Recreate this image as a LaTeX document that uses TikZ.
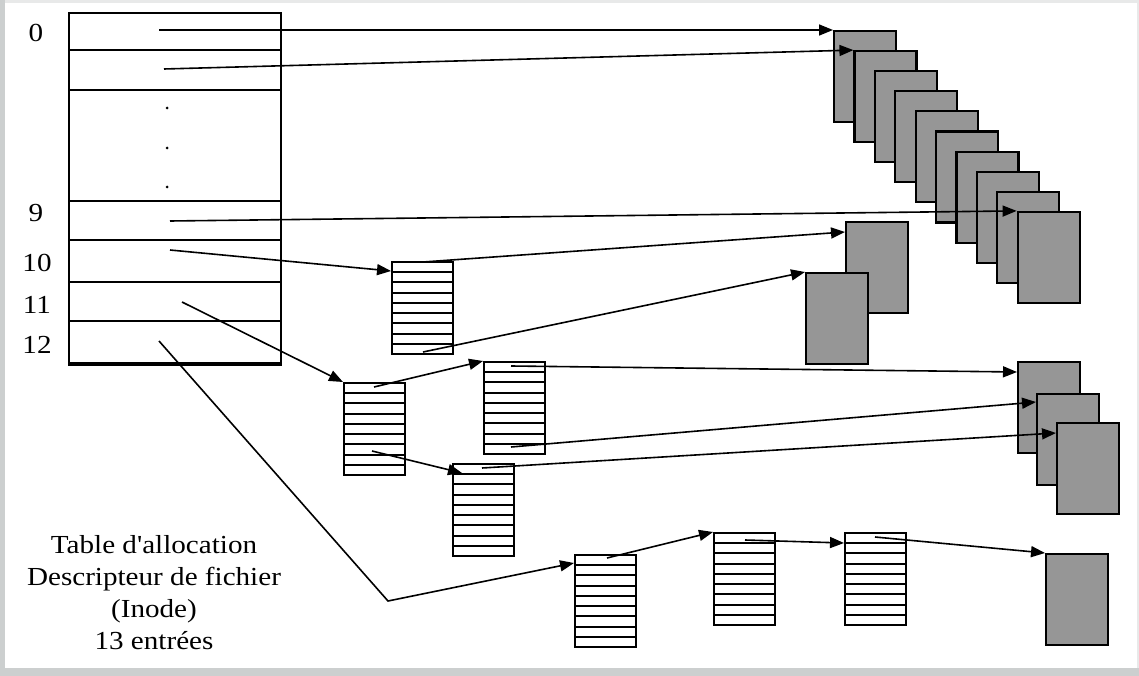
\documentclass[tikz,border=0pt]{standalone}
\usepackage{fontspec}
\setmainfont{Liberation Serif}
% plain family (no TeX ligature mapping, so the apostrophe stays straight)
\newfontfamily\capfont{Liberation Serif}[FakeStretch=1.12]
\usetikzlibrary{arrows.meta,calc}

\definecolor{blockgray}{RGB}{150,150,150}
\definecolor{framegray}{RGB}{204,207,207}
\definecolor{framelight}{RGB}{232,233,233}

\tikzset{
  cell/.style={draw, line width=2.2pt, minimum width=212pt, inner sep=0pt, anchor=north west},
  datablk/.style={draw, line width=2.1pt, fill=blockgray, minimum width=62pt,
    minimum height=91pt, inner sep=0pt, anchor=north west},
  idxblk/.style={draw, line width=2pt, fill=white, minimum width=61pt,
    minimum height=92pt, inner sep=0pt, anchor=north west,
    path picture={
      \foreach \k in {1,...,8}{
        \draw[line width=1.9pt]
          ($(path picture bounding box.north west)!\k/9!(path picture bounding box.south west)$) --
          ($(path picture bounding box.north east)!\k/9!(path picture bounding box.south east)$);
      }}},
  ptr/.style={line width=1.6pt, -{Triangle[length=14pt,width=11pt]}},
  lbl/.style={font=\capfont\fontsize{26}{32}\selectfont, inner sep=0pt},
  dotmark/.style={circle, fill, inner sep=0pt, minimum size=3pt},
}

\begin{document}
\begin{tikzpicture}[x=1pt, y=-1pt]
  \useasboundingbox (0,0) rectangle (1139,676);
  % frame
  \fill[framelight] (0,0) rectangle (1139,676);
  \fill[framegray] (0,0) rectangle (5,676);
  \fill[framegray] (0,668) rectangle (1139,676);
  \fill[white] (5,3) rectangle (1137,668);

  % inode table
  \node[cell, minimum height=37pt]  (row0)  at (68,12)  {};
  \node[cell, minimum height=40pt]  (row1)  at (68,49)  {};
  \node[cell, minimum height=111pt] (rowd)  at (68,89)  {};
  \node[cell, minimum height=39pt]  (row9)  at (68,200) {};
  \node[cell, minimum height=42pt]  (row10) at (68,239) {};
  \node[cell, minimum height=39pt]  (row11) at (68,281) {};
  \node[cell, minimum height=42pt]  (row12) at (68,320) {};
  \draw[line width=4pt] (row12.south west) -- (row12.south east);
  \node[dotmark] (dt1) at (167,108) {};
  \node[dotmark] (dt2) at (167,148) {};
  \node[dotmark] (dt3) at (167,187) {};

  \node[lbl] (l0)  at (36,33)  {0};
  \node[lbl] (l9)  at (36,213) {9};
  \node[lbl] (l10) at (37,263) {10};
  \node[lbl] (l11) at (37,305) {11};
  \node[lbl] (l12) at (37,345) {12};

  \node[lbl, align=center] (cap) at (154,593)
    {Table d'allocation\\Descripteur de fichier\\(Inode)\\13 entrées};

  % index blocks
  \node[idxblk] (i1)   at (391,261) {};
  \node[idxblk] (dl1)  at (343,382) {};
  \node[idxblk] (dl2a) at (483,361) {};
  \node[idxblk] (dl2b) at (452,463) {};
  \node[idxblk] (t1)   at (574,554) {};
  \node[idxblk] (t2)   at (713,532) {};
  \node[idxblk] (t3)   at (844,532) {};

  % data blocks of the direct entries
  \foreach \i in {1,...,10}
    \node[datablk] (d\i) at ({833+20.4*(\i-1)},{30+20.1*(\i-1)}) {};
  % data blocks reached through indirection
  \node[datablk] (sa) at (845,221) {};
  \node[datablk] (sb) at (805,272) {};
  \node[datablk] (q1) at (1017,361) {};
  \node[datablk] (q2) at (1036,393) {};
  \node[datablk] (q3) at (1056,422) {};
  \node[datablk] (fb) at (1045,553) {};

  % pointers from the table
  \coordinate (s0)  at (159,30);
  \coordinate (s1)  at (164,69);
  \coordinate (s9)  at (170,221);
  \coordinate (s10) at (170,250);
  \coordinate (s11) at (182,302);
  \coordinate (s12) at (159,341);
  \coordinate (bend) at (388,601);
  \draw[ptr] (s0) -- (d1.north west);
  \draw[ptr] (s1) -- (d2.north west);
  \draw[ptr] (s9) -- (d10.north west);
  \draw[ptr] (s10) -- ($(i1.north west)+(0,10)$);
  \draw[ptr] (s11) -- (dl1.north west);
  \draw[ptr] (s12) -- (bend) -- ($(t1.north west)+(0,9)$);

  % simple indirection
  \draw[ptr] ($(i1.north west)+(32,1)$) -- ($(sa.north west)+(0,11)$);
  \draw[ptr] ($(i1.north west)+(32,91)$) -- (sb.north west);

  % double indirection
  \draw[ptr] ($(dl1.north west)+(31,5)$) -- (dl2a.north west);
  \draw[ptr] ($(dl1.north west)+(29,69)$) -- ($(dl2b.north west)+(10,10)$);
  \draw[ptr] ($(dl2a.north west)+(28,5)$) -- ($(q1.north west)+(0,11)$);
  \draw[ptr] ($(dl2a.north west)+(28,86)$) -- ($(q2.north west)+(0,9)$);
  \draw[ptr] ($(dl2b.north west)+(30,5)$) -- ($(q3.north west)+(0,11)$);

  % triple indirection
  \draw[ptr] ($(t1.north west)+(33,4)$) -- (t2.north west);
  \draw[ptr] ($(t2.north west)+(32,8)$) -- ($(t3.north west)+(0,11)$);
  \draw[ptr] ($(t3.north west)+(31,5)$) -- (fb.north west);
\end{tikzpicture}
\end{document}
